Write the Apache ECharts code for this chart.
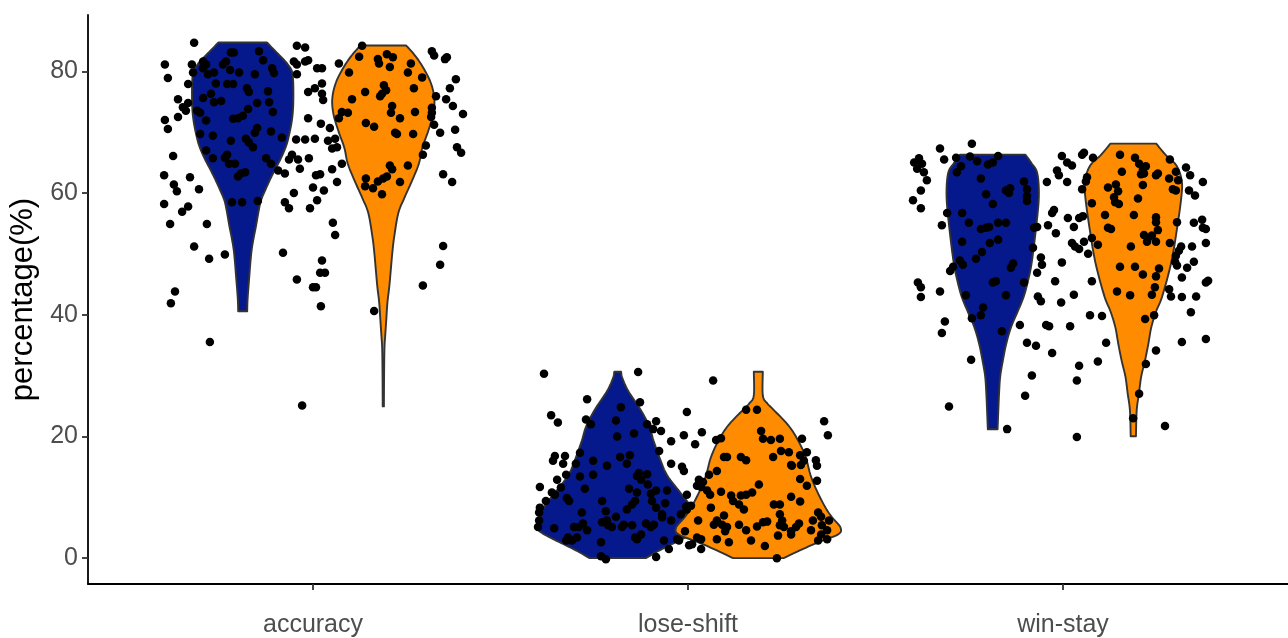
<!DOCTYPE html>
<html>
<head>
<meta charset="utf-8">
<script src="https://cdn.jsdelivr.net/npm/echarts@6/dist/echarts.min.js"></script>
<style>
  html, body { margin: 0; padding: 0; background: #ffffff; }
  #chart { width: 1288px; height: 638px; }
</style>
</head>
<body>
<div id="chart"></div>
<script>
// Measures on the x axis
const categories = ['accuracy', 'lose-shift', 'win-stay'];
const yTicks = [0, 20, 40, 60, 80];

// Violin outlines: [percentage, half width in category units], top to bottom
const violinAccuracy1 = [
  [84.72, 0.065], [83.75, 0.080], [82.44, 0.101], [81.14, 0.120], [79.51, 0.133],
  [75.11, 0.135], [71.85, 0.131], [68.59, 0.120], [66.97, 0.111], [65.34, 0.099],
  [63.71, 0.085], [62.08, 0.072], [60.45, 0.060], [58.82, 0.049], [57.19, 0.043],
  [54.75, 0.036], [50.68, 0.024], [45.79, 0.017], [42.53, 0.013], [40.57, 0.012]
];
const violinAccuracy2 = [
  [84.23, 0.061], [82.93, 0.080], [81.14, 0.101], [78.37, 0.125], [75.60, 0.136],
  [72.99, 0.133], [70.22, 0.120], [67.45, 0.104], [64.85, 0.095], [62.08, 0.077],
  [59.31, 0.057], [56.70, 0.040], [52.79, 0.029], [50.18, 0.024], [47.41, 0.020],
  [44.64, 0.016], [42.04, 0.011], [39.27, 0.008], [36.50, 0.005], [34.38, 0.003],
  [29.49, 0.002], [24.93, 0.0016]
];
const violinLoseShift1 = [
  [30.63, 0.009], [29.49, 0.013], [27.37, 0.029], [24.60, 0.059], [21.83, 0.083],
  [19.23, 0.096], [16.46, 0.112], [13.69, 0.131], [11.08, 0.163], [8.31, 0.197],
  [6.35, 0.208], [4.72, 0.213], [3.42, 0.181], [2.28, 0.144], [1.14, 0.107], [0.00, 0.075]
];
const violinLoseShift2 = [
  [30.63, 0.012], [26.72, 0.012], [25.42, 0.024], [24.60, 0.037], [21.83, 0.080],
  [19.23, 0.107], [16.46, 0.127], [13.69, 0.139], [11.08, 0.156], [8.31, 0.179],
  [6.68, 0.197], [5.05, 0.219], [3.91, 0.213], [2.61, 0.160], [1.30, 0.112], [0.00, 0.067]
];
const violinWinStay1 = [
  [66.31, 0.087], [64.85, 0.104], [63.22, 0.119], [59.31, 0.123], [53.93, 0.115],
  [48.55, 0.104], [45.79, 0.095], [43.01, 0.083], [40.57, 0.067], [37.96, 0.049],
  [35.19, 0.036], [32.42, 0.027], [29.82, 0.020], [27.05, 0.017], [24.28, 0.015], [21.18, 0.013]
];
const violinWinStay2 = [
  [68.11, 0.061], [66.15, 0.088], [64.52, 0.115], [62.08, 0.129], [59.31, 0.128],
  [53.93, 0.116], [48.55, 0.101], [43.01, 0.077], [40.57, 0.061], [37.96, 0.048],
  [35.19, 0.040], [32.42, 0.031], [29.82, 0.021], [27.05, 0.015], [24.28, 0.009], [20.04, 0.007]
];

// Individual observations: [jitter offset from the category centre, percentage]
const pointsAccuracy = [
  [-0.317,84.7],[-0.219,83.1],[-0.211,83.1],[-0.144,83.3],[-0.043,84.2],[-0.021,83.9],
  [-0.395,81.1],[-0.323,81.1],[-0.293,81.6],[-0.285,81.1],[-0.240,81.1],[-0.232,81.6],[-0.133,81.8],[-0.109,80.5],[-0.104,79.7],[-0.051,81.6],[-0.043,81.1],[-0.021,81.6],[-0.013,81.8],
  [-0.387,78.9],[-0.320,79.8],[-0.293,80.5],[-0.280,79.5],[-0.264,79.8],[-0.221,80.2],[-0.197,79.8],[-0.155,79.5],[-0.043,79.5],
  [-0.333,77.9],[-0.259,78.0],[-0.229,77.9],[-0.213,77.9],[-0.176,77.2],[-0.171,76.6],[-0.120,76.7],[-0.013,76.6],
  [-0.360,75.4],[-0.293,75.6],[-0.272,76.3],[-0.264,74.9],[-0.245,75.1],[-0.347,74.1],[-0.333,74.8],[-0.339,73.5],[-0.309,73.5],[-0.301,73.2],[-0.360,72.5],[-0.173,73.8],[-0.149,74.8],[-0.117,74.9],[-0.107,73.3],
  [-0.395,72.0],[-0.387,70.5],[-0.285,71.9],[-0.213,72.2],[-0.200,72.3],[-0.187,72.7],[-0.013,72.3],
  [-0.301,69.7],[-0.267,69.4],[-0.149,70.7],[-0.155,69.9],[-0.112,70.1],[-0.083,69.1],[-0.219,68.6],[-0.179,68.9],[-0.171,68.3],[-0.160,67.5],[-0.045,68.8],[-0.021,68.8],
  [-0.285,67.0],[-0.373,66.1],[-0.267,65.7],[-0.235,65.8],[-0.229,66.3],[-0.224,64.8],[-0.208,64.8],[-0.125,65.7],[-0.112,64.8],[-0.064,65.5],[-0.056,66.3],[-0.040,65.5],[-0.011,65.7],
  [-0.093,63.7],[-0.075,63.2],[-0.035,64.0],[-0.192,63.2],[-0.181,63.4],[-0.200,62.7],[-0.397,62.9],[-0.328,62.6],[-0.371,61.4],[-0.363,60.3],[-0.304,60.6],[-0.051,60.0],[0.000,60.9],
  [-0.397,58.2],[-0.333,57.8],[-0.349,56.9],[-0.216,58.5],[-0.189,58.5],[-0.147,58.7],[-0.075,58.5],[-0.064,57.5],[-0.008,57.5],[-0.381,54.9],[-0.283,54.9],
  [-0.317,51.2],[-0.277,49.2],[-0.235,49.9],[-0.080,50.2],[-0.043,45.8],[0.000,44.5],[-0.368,43.8],[-0.379,41.9],[-0.275,35.5],[-0.029,25.1],
  [0.131,84.2],[0.317,83.3],[0.323,82.6],[0.357,82.3],[0.352,82.0],[0.069,81.3],[0.123,82.4],[0.173,82.0],[0.176,81.3],[0.197,82.8],[0.213,82.3],[0.205,80.7],[0.261,81.3],
  [0.011,80.5],[0.024,80.5],[0.096,79.8],[0.253,79.8],[0.291,79.0],[0.381,78.7],[0.024,78.0],[0.005,77.2],[0.189,77.7],[0.195,76.9],[0.184,76.3],[0.179,75.9],[0.139,76.6],[0.269,77.2],[0.365,77.2],[0.328,75.9],
  [0.024,76.3],[0.027,75.3],[0.104,75.4],[0.355,75.4],[0.211,74.3],[0.208,73.2],[0.232,72.3],[0.373,74.3],[0.400,73.0],[0.077,73.3],[0.093,73.2],[0.069,72.3],[0.272,73.3],[0.317,74.0],[0.317,73.2],[0.315,72.5],
  [0.141,71.5],[0.163,70.9],[0.021,71.4],[0.045,70.7],[0.323,71.2],[0.339,69.9],[0.379,70.4],[0.219,69.9],[0.224,69.7],[0.267,69.7],[0.005,68.9],[0.040,68.6],[0.059,68.9],[0.051,67.3],[0.064,67.5],[0.301,67.8],[0.384,67.5],[0.395,66.6],[0.293,66.3],
  [0.077,64.8],[0.205,64.5],[0.211,63.9],[0.197,62.7],[0.187,62.4],[0.253,64.5],[0.051,63.9],[0.008,62.9],[0.019,63.1],[0.141,62.4],[0.139,61.1],[0.160,60.8],[0.173,61.9],[0.232,61.8],[0.347,63.1],[0.371,61.8],[0.064,61.8],[0.184,59.8],[0.029,60.4],[0.011,58.8],
  [0.053,55.1],[0.059,53.1],[0.347,51.3],[0.024,48.9],[0.019,46.9],[0.032,46.9],[0.339,48.2],[0.008,44.5],[0.293,44.8],[0.021,41.4],[0.163,40.6]
];
const pointsLoseShift = [
  [-0.384,30.3],[-0.133,30.6],[-0.269,26.1],[-0.128,25.6],[-0.365,23.5],[-0.347,22.3],[-0.179,24.8],[-0.272,22.8],[-0.259,22.0],[-0.192,22.6],
  [-0.109,22.0],[-0.085,22.5],[-0.093,21.2],[-0.072,20.9],[-0.189,20.0],[-0.144,20.5],[-0.045,19.2],[-0.355,16.8],[-0.360,16.0],[-0.328,16.8],
  [-0.333,15.5],[-0.288,17.3],[-0.299,15.5],[-0.253,16.0],[-0.216,15.2],[-0.181,16.6],[-0.155,16.9],[-0.163,15.5],[-0.077,17.6],[-0.045,15.5],
  [-0.349,12.9],[-0.325,13.7],[-0.288,13.4],[-0.253,13.7],[-0.136,13.5],[-0.131,14.0],[-0.109,13.8],[-0.125,12.9],[-0.395,11.7],[-0.339,11.6],
  [-0.363,10.8],[-0.379,9.4],[-0.355,10.4],[-0.275,11.4],[-0.157,11.4],[-0.136,10.8],[-0.141,9.4],[-0.149,8.8],[-0.107,12.1],[-0.099,10.6],
  [-0.085,11.1],[-0.096,9.4],[-0.085,8.3],[-0.056,11.1],[-0.061,9.0],[-0.317,9.4],[-0.323,9.9],[-0.229,9.4],[-0.395,8.3],[-0.397,7.5],
  [-0.397,6.2],[-0.400,5.1],[-0.283,7.5],[-0.219,7.7],[-0.216,6.2],[-0.192,6.8],[-0.163,8.0],[-0.069,7.2],[-0.045,6.2],[-0.069,6.7],
  [-0.357,4.9],[-0.304,5.1],[-0.280,5.7],[-0.291,5.1],[-0.269,4.6],[-0.229,5.9],[-0.213,5.4],[-0.203,5.1],[-0.176,5.1],[-0.149,5.4],
  [-0.171,5.5],[-0.112,5.7],[-0.099,5.1],[-0.091,5.5],[-0.320,3.4],[-0.325,2.9],[-0.309,2.9],[-0.296,3.4],[-0.232,2.6],[-0.136,3.1],
  [-0.125,3.9],[-0.141,3.4],[-0.064,2.9],[-0.051,1.5],[-0.232,0.3],[-0.219,-0.2],[-0.085,0.2],
  [0.067,29.2],[-0.003,24.0],[0.155,24.4],[0.184,24.4],[0.363,22.5],[0.373,20.2],[0.037,20.7],[-0.011,20.2],[0.019,18.7],[0.075,19.4],
  [0.088,19.7],[0.195,20.9],[0.200,19.6],[0.221,19.4],[0.245,19.6],[0.304,19.6],[0.104,16.6],[0.096,16.6],[0.141,16.6],[0.155,16.1],
  [0.227,16.6],[0.248,17.6],[0.269,17.4],[0.299,16.9],[0.317,17.4],[0.309,16.0],[0.301,15.3],[0.277,15.2],[0.275,15.3],[0.341,16.1],
  [0.344,15.2],[-0.016,15.0],[-0.011,14.3],[0.056,13.7],[0.077,14.3],[0.029,12.9],[0.040,12.5],[0.035,11.7],[0.024,11.9],[0.299,13.0],
  [0.317,11.9],[0.344,12.7],[0.189,12.1],[0.051,11.1],[0.059,10.4],[0.088,10.9],[0.171,10.8],[0.155,10.4],[0.141,10.3],[0.115,10.3],
  [0.120,9.4],[0.136,8.8],[0.149,8.0],[-0.003,10.4],[0.008,8.6],[-0.003,8.0],[-0.019,7.2],[-0.005,8.5],[0.061,8.3],[0.229,8.8],
  [0.245,8.8],[0.275,10.1],[0.299,9.3],[0.245,7.2],[0.251,6.2],[0.245,5.4],[0.256,5.1],[0.296,5.7],[0.288,5.1],[0.275,4.4],
  [0.347,7.5],[0.355,6.8],[0.333,6.2],[0.328,4.6],[0.357,5.4],[0.371,4.6],[0.355,3.9],[0.376,6.2],[0.096,7.0],[0.077,6.2],
  [0.069,5.5],[0.091,5.5],[0.104,5.1],[0.099,4.4],[0.027,6.2],[0.136,5.5],[0.184,5.2],[0.200,5.9],[0.211,6.0],[0.155,4.6],
  [-0.008,4.4],[0.077,3.1],[0.035,3.1],[0.024,3.4],[0.011,2.3],[0.003,2.1],[0.035,1.5],[0.109,2.6],[0.168,2.9],[0.240,3.7],
  [0.205,2.0],[0.275,3.9],[0.347,2.9],[0.371,3.1],[0.237,0.0],[-0.029,3.1],[-0.024,2.9]
];
const pointsWinStay = [
  [-0.243,68.1],[-0.328,67.3],[-0.384,65.7],[-0.397,65.0],[-0.376,64.8],[-0.389,64.0],[-0.371,63.4],[-0.363,62.1],[-0.317,65.5],[-0.285,65.8],
  [-0.248,66.0],[-0.229,65.2],[-0.173,66.1],[-0.272,64.4],[-0.283,63.4],[-0.200,64.7],[-0.187,65.0],[-0.219,62.4],[-0.379,60.4],[-0.400,58.8],
  [-0.379,57.5],[-0.205,59.8],[-0.187,58.2],[-0.152,60.4],[-0.141,60.8],[-0.144,60.0],[-0.104,61.9],[-0.096,60.6],[-0.096,59.5],[-0.096,58.7],
  [-0.043,61.8],[-0.016,63.7],[-0.011,62.9],[-0.003,66.1],[-0.309,56.7],[-0.323,54.7],[-0.269,56.7],[-0.251,55.1],[-0.219,54.1],[-0.205,54.3],
  [-0.197,54.4],[-0.173,55.1],[-0.152,55.1],[-0.077,54.3],[-0.069,54.4],[-0.040,54.7],[-0.019,53.4],[-0.024,57.2],[-0.029,56.7],[-0.269,52.0],
  [-0.195,51.8],[-0.173,52.3],[-0.216,50.3],[-0.232,49.2],[-0.080,51.0],[-0.275,48.9],[-0.267,48.2],[-0.301,47.2],[-0.293,47.9],[-0.139,47.7],
  [-0.133,48.4],[-0.059,49.4],[-0.056,48.2],[-0.069,46.9],[-0.003,48.6],[-0.387,45.3],[-0.379,44.5],[-0.328,43.8],[-0.187,45.3],[-0.179,45.5],
  [-0.104,45.3],[-0.021,45.5],[-0.259,43.2],[-0.152,43.2],[-0.067,43.0],[-0.379,42.9],[-0.059,42.2],[-0.005,42.0],[-0.213,41.2],[-0.219,39.9],
  [-0.243,39.4],[-0.315,38.9],[-0.323,37.0],[-0.163,37.3],[-0.115,38.3],[-0.045,38.3],[-0.037,38.1],[-0.096,35.4],[-0.072,34.9],[-0.029,33.7],
  [-0.245,32.6],[-0.083,30.0],[-0.101,26.7],[-0.304,24.9],[-0.149,21.2],
  [0.011,65.0],[0.024,64.5],[0.056,66.6],[0.051,66.3],[0.080,65.8],[0.152,66.3],[0.192,65.8],[0.203,64.8],[0.213,63.9],[0.221,64.4],
  [0.208,63.1],[0.216,63.2],[0.157,63.5],[0.285,65.5],[0.328,64.2],[0.301,63.5],[0.307,62.1],[0.339,62.9],[0.283,62.4],[0.248,62.9],
  [0.253,63.2],[0.373,61.8],[0.064,62.6],[0.061,61.9],[0.011,61.8],[0.051,60.6],[0.120,60.9],[0.141,61.4],[0.147,60.3],[0.136,59.3],
  [0.139,58.5],[0.149,58.2],[0.213,61.3],[0.293,60.6],[0.301,60.4],[0.336,60.4],[0.352,59.6],[0.200,59.1],[0.077,58.3],[0.112,56.4],
  [0.189,56.4],[0.248,56.0],[0.248,55.2],[0.253,53.9],[0.304,55.2],[0.013,55.9],[0.043,55.9],[0.053,56.2],[0.029,54.4],[0.120,54.3],
  [0.128,54.1],[0.349,55.1],[0.371,55.6],[0.373,54.3],[0.381,54.1],[0.216,53.1],[0.227,52.6],[0.237,53.0],[0.224,52.0],[0.248,52.0],
  [0.077,52.6],[0.093,51.5],[0.024,51.8],[0.032,51.2],[0.043,50.8],[0.056,52.0],[0.067,50.0],[0.285,51.8],[0.181,51.2],[0.315,51.2],
  [0.309,50.5],[0.301,49.7],[0.299,48.7],[0.304,48.1],[0.344,51.2],[0.381,51.8],[0.152,47.9],[0.192,47.9],[0.213,46.6],[0.256,47.6],
  [0.248,46.3],[0.331,47.7],[0.349,48.7],[0.317,46.1],[0.381,45.3],[0.387,45.6],[0.077,45.5],[0.245,44.5],[0.237,43.3],[0.144,43.8],
  [0.179,43.2],[0.029,43.3],[0.283,44.2],[0.288,43.0],[0.317,42.9],[0.355,43.0],[0.341,40.4],[0.072,39.9],[0.104,39.8],[0.019,38.1],
  [0.219,39.3],[0.243,39.9],[0.115,35.4],[0.317,35.5],[0.381,36.0],[0.248,34.1],[0.043,31.6],[0.093,32.3],[0.221,31.9],[0.037,29.2],
  [0.203,27.0],[0.187,23.0],[0.272,21.7],[0.037,19.9]
];

// Layout and style
const DODGE = 0.1875;                  // half of the dodge width, in category units
const FILLS = ['#06198c', '#ff8c00'];
const OUTLINE = '#333333';
const TEXT_GREY = '#4d4d4d';

const violinProfiles = [
  [violinAccuracy1, violinAccuracy2],
  [violinLoseShift1, violinLoseShift2],
  [violinWinStay1, violinWinStay2]
];
const pointSets = [pointsAccuracy, pointsLoseShift, pointsWinStay];

// one custom item per violin: [category position, group index]
const violinItems = [];
violinProfiles.forEach((pair, c) => pair.forEach((_, g) => violinItems.push([c + 1, g])));

const scatterData = [];
pointSets.forEach((pts, c) => pts.forEach(([off, v]) => scatterData.push([c + 1 + off, v])));

// Catmull-Rom smoothing of an outline in pixel space
function smoothPath(pts, steps) {
  const out = [];
  const n = pts.length;
  for (let i = 0; i < n - 1; i++) {
    const p0 = pts[Math.max(i - 1, 0)], p1 = pts[i], p2 = pts[i + 1], p3 = pts[Math.min(i + 2, n - 1)];
    for (let s = 0; s < steps; s++) {
      const t = s / steps, t2 = t * t, t3 = t2 * t;
      const f = (a, b, c, d) => 0.5 * ((2 * b) + (-a + c) * t + (2 * a - 5 * b + 4 * c - d) * t2 + (-a + 3 * b - 3 * c + d) * t3);
      out.push([f(p0[0], p1[0], p2[0], p3[0]), f(p0[1], p1[1], p2[1], p3[1])]);
    }
  }
  out.push(pts[n - 1]);
  return out;
}

function renderViolin(params, api) {
  const cat = api.value(0);
  const grp = api.value(1);
  const profile = violinProfiles[cat - 1][grp];
  const centre = cat + (grp === 0 ? -DODGE : DODGE);
  const right = profile.map(([v, w]) => api.coord([centre + w, v]));
  const left = profile.map(([v, w]) => api.coord([centre - w, v])).reverse();
  const points = smoothPath(right, 6).concat(smoothPath(left, 6));
  return {
    type: 'polygon',
    shape: { points: points },
    style: { fill: FILLS[grp], stroke: OUTLINE, lineWidth: 1.9, lineJoin: 'round' }
  };
}

const chart = echarts.init(document.getElementById('chart'), null, { renderer: 'canvas' });
chart.setOption({
  animation: false,
  backgroundColor: '#ffffff',
  grid: { left: 88, right: 0, top: 15, bottom: 49, containLabel: false },
  xAxis: {
    type: 'value',
    min: 0.4,
    max: 3.6,
    splitLine: { show: false },
    axisLine: { show: true, onZero: false, lineStyle: { color: '#000000', width: 1.8 } },
    axisTick: { show: true, customValues: [1, 2, 3], length: 6, lineStyle: { color: '#333333', width: 1.8 } },
    axisLabel: {
      customValues: [1, 2, 3],
      formatter: (v) => categories[Math.round(v) - 1],
      color: TEXT_GREY,
      fontFamily: 'Liberation Sans',
      fontSize: 25,
      margin: 29
    }
  },
  yAxis: {
    type: 'value',
    min: -4.25,
    max: 89.25,
    name: 'percentage(%)',
    nameLocation: 'middle',
    nameGap: 42,
    nameTextStyle: { color: '#000000', fontFamily: 'Liberation Sans', fontSize: 31 },
    splitLine: { show: false },
    axisLine: { show: true, onZero: false, lineStyle: { color: '#000000', width: 1.8 } },
    axisTick: { show: true, customValues: yTicks, length: 6, lineStyle: { color: '#333333', width: 1.8 } },
    axisLabel: {
      customValues: yTicks,
      color: TEXT_GREY,
      fontFamily: 'Liberation Sans',
      fontSize: 25,
      margin: 10
    }
  },
  series: [
    {
      type: 'custom',
      renderItem: renderViolin,
      data: violinItems,
      encode: { x: 0, y: 1 },
      clip: false,
      z: 2
    },
    {
      type: 'scatter',
      data: scatterData,
      symbol: 'circle',
      symbolSize: 8.5,
      itemStyle: { color: '#000000', opacity: 1 },
      z: 3
    }
  ]
});
</script>
</body>
</html>
